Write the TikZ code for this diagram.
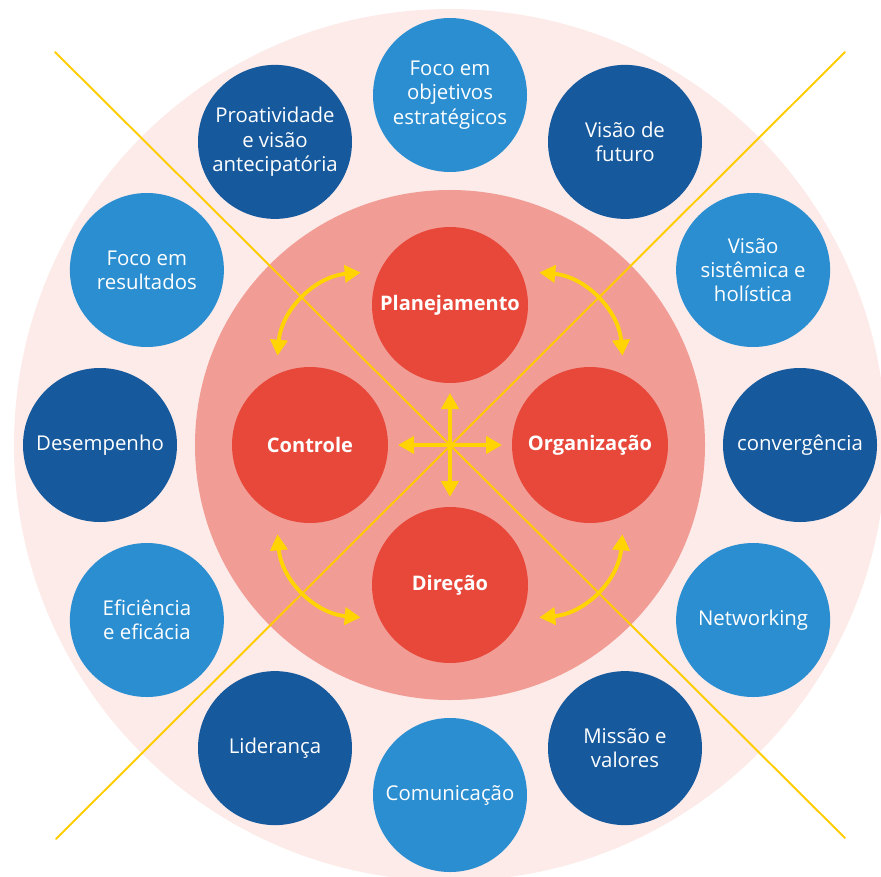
\documentclass[tikz,border=0pt]{standalone}
\usepackage{fontspec}
\setmainfont{Open Sans}
\usepackage{tkz-euclide}
\usetikzlibrary{arrows.meta}
\definecolor{fond}{RGB}{252,235,233}
\definecolor{rose}{RGB}{241,157,150}
\definecolor{rouge}{RGB}{231,72,58}
\definecolor{bleuF}{RGB}{22,89,157}
\definecolor{bleuC}{RGB}{43,142,209}
\definecolor{jaune}{RGB}{255,212,0}

\begin{document}
\begin{tikzpicture}[every node/.style={circle, inner sep=1pt, text=white, align=center},
    sombre/.style={fill=bleuF, minimum size=3.08cm, font=\fontsize{11.6}{13.8}\selectfont},
    clair/.style={sombre, fill=bleuC},
    fonction/.style={fill=rouge, minimum size=3.12cm, outer sep=0.34cm, font=\bfseries\fontsize{11.4}{13.8}\selectfont},
    fleche/.style={draw=jaune, line width=2.2pt, >={Triangle[length=0.32cm, width=0.34cm]}}]
    % fond
    \useasboundingbox (-9,-8.62) rectangle (8.62,8.9);
    \fill[fond] (0,0) circle (8.72);
    \fill[rose] (0,0) circle (5.1);
    % définition des points
    \tkzDefPoints{0/0/Z,-7.9/7.86/A,7.9/-7.86/B,7.9/7.86/C,-7.88/-7.88/D}
    % droites et segments
    \tkzDrawSegments[color=jaune!90!orange, line width=1.1pt](A,B C,D)
    % cercles extérieurs
    \node[clair]  (B_1)  at (90:7)   {Foco em\\objetivos\\estratégicos};
    \node[sombre] (B_2)  at (60:7)   {Visão de\\futuro};
    \node[clair]  (B_3)  at (30:7)   {Visão\\sistêmica e\\holística};
    \node[sombre] (B_4)  at (0:7)    {convergência};
    \node[clair]  (B_5)  at (-30:7)  {Networking};
    \node[sombre] (B_6)  at (-60:7)  {Missão e\\valores};
    \node[clair]  (B_7)  at (-90:7)  {Comunicação};
    \node[sombre] (B_8)  at (-120:7) {Liderança};
    \node[clair]  (B_9)  at (-150:7) {Eficiência\\e eficácia};
    \node[sombre] (B_10) at (180:7)  {Desempenho};
    \node[clair]  (B_11) at (150:7)  {Foco em\\resultados};
    \node[sombre] (B_12) at (120:7)  {Proatividade\\e visão\\antecipatória};
    % cercles centraux
    \node[fonction] (Pl) at (90:2.8)  {Planejamento};
    \node[fonction] (Or) at (0:2.8)   {Organização};
    \node[fonction] (Di) at (-90:2.8) {Direção};
    \node[fonction] (Co) at (180:2.8) {Controle};
    % flèches
    \draw[fleche,->, shorten >=1.76cm] (Z) -- (Pl.center);
    \draw[fleche,->, shorten >=1.76cm] (Z) -- (Or.center);
    \draw[fleche,->, shorten >=1.76cm] (Z) -- (Di.center);
    \draw[fleche,->, shorten >=1.76cm] (Z) -- (Co.center);
    \draw[fleche,<->] (Co.110) to[bend left=40] (Pl.160);
    \draw[fleche,<->] (Pl.20) to[bend left=40] (Or.70);
    \draw[fleche,<->] (Or.-70) to[bend left=40] (Di.-20);
    \draw[fleche,<->] (Di.-160) to[bend left=40] (Co.-110);
\end{tikzpicture}
\end{document}
